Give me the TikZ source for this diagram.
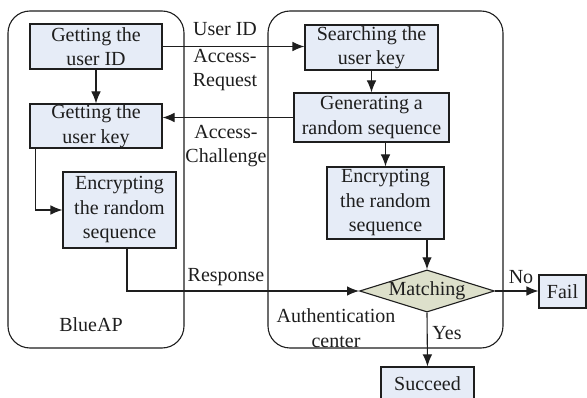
\documentclass[tikz,border=0pt]{standalone}
\usepackage{fontspec}
\setmainfont{Liberation Serif}
\usetikzlibrary{arrows.meta,shapes.geometric,calc}
\definecolor{boxfill}{HTML}{E6ECF7}
\definecolor{decfill}{HTML}{DDE0CB}
\definecolor{ink}{HTML}{1E1E1E}
\tikzset{
  base/.style={font=\fontsize{20}{24.5}\selectfont, text=ink},
  stepbox/.style={base, draw=ink, line width=1.1pt, fill=boxfill, align=center, inner sep=0pt},
  decision/.style={base, diamond, draw=ink, line width=1.1pt, fill=decfill, inner sep=0pt, aspect=3.2},
  party/.style={draw=ink, line width=1.1pt, rounded corners=22pt},
  lbl/.style={base, align=center, inner sep=0pt},
  flow/.style={draw=ink, line width=1.1pt, -{Latex[length=12pt,width=9.5pt]}},
}
\begin{document}
\begin{tikzpicture}[x=1pt,y=-1pt]
\clip (0,0) rectangle (587,398);
\fill[white] (0,0) rectangle (587,398);

% the two parties
\draw[party] (8,11) rectangle (184,348);
\draw[party] (268,11) rectangle (503,348);

% BlueAP side
\node[stepbox, minimum width=132pt, minimum height=45pt] (uid) at (96,46.5) {Getting the\\user ID};
\node[stepbox, minimum width=132pt, minimum height=44pt] (ukey) at (96,126) {Getting the\\user key};
\node[stepbox, minimum width=113pt, minimum height=76pt] (encA) at (119.5,210) {Encrypting\\the random\\sequence};

% authentication center side
\node[stepbox, minimum width=133pt, minimum height=45pt] (search) at (371.5,47.5) {Searching the\\user key};
\node[stepbox, minimum width=155pt, minimum height=49pt] (gen) at (371.5,117.5) {Generating a\\random sequence};
\node[stepbox, minimum width=117pt, minimum height=72pt] (encB) at (385.5,203) {Encrypting\\the random\\sequence};
\node[decision, minimum width=130pt, minimum height=41pt] (match) at (427,291) {Matching};

% outcomes
\node[stepbox, minimum width=47pt, minimum height=33pt] (fail) at (562.5,291.5) {Fail};
\node[stepbox, minimum width=93pt, minimum height=33pt] (ok) at (427.5,383.5) {Succeed};

% labels
\node[lbl] (lUid) at (225,29) {User ID};
\node[lbl] (lReq) at (225,70) {Access-\\Request};
\node[lbl] (lChal) at (226,146) {Access-\\Challenge};
\node[lbl] (lResp) at (226,277) {Response};
\node[lbl] (lBlue) at (91,325) {BlueAP};
\node[lbl] (lCenter) at (336,328) {Authentication\\center};
\node[lbl] (lNo) at (521,277) {No};
\node[lbl] (lYes) at (447,333) {Yes};

% connectors
\draw[flow] (uid.east) -- (uid.east -| search.west);
\draw[flow] (uid) -- (ukey);
\draw[flow] (gen.west) -- (gen.west -| ukey.east);
\coordinate (ukeyOut) at ($(ukey.south west)+(6,0)$);
\draw[flow] (ukeyOut) |- (encA.west);
\coordinate (encAOut) at ($(encA.south)+(7.5,0)$);
\draw[flow] (encAOut) |- (match.west);
\draw[flow] (search) -- (gen);
\draw[flow] (gen.south -| encB) -- (encB);
\draw[flow] (encB.south -| match) -- (match.north);
\draw[flow] (match.east) -- (match.east -| fail.west);
\draw[flow] (match.south) -- (ok.north);
\end{tikzpicture}
\end{document}
